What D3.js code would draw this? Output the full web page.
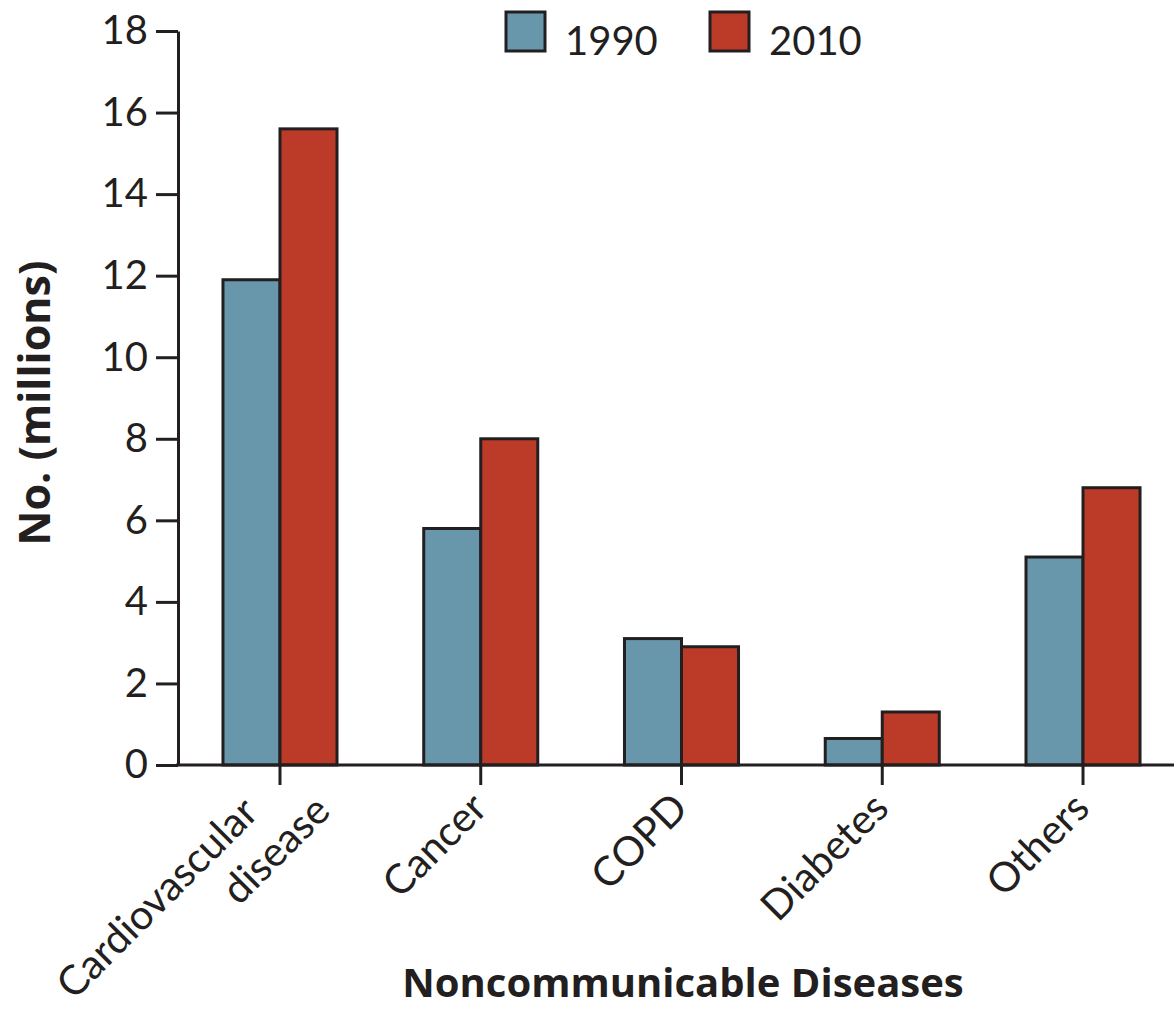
<!DOCTYPE html>
<html>
<head>
<meta charset="utf-8">
<script src="https://cdn.jsdelivr.net/npm/d3@7"></script>
<style>
  html, body { margin: 0; padding: 0; background: #fff; }
  svg { display: block; }
  text { font-family: Lato, "Open Sans", sans-serif; fill: #231f20; }
  .title { font-family: "Open Sans", Lato, sans-serif; font-weight: bold; }
</style>
</head>
<body>
<svg id="chart" width="1174" height="1010"></svg>
<script>
const categories = ["Cardiovascular\ndisease", "Cancer", "COPD", "Diabetes", "Others"];
const years = ["1990", "2010"];
const values1990 = [11.9, 5.8, 3.1, 0.65, 5.1];
const values2010 = [15.6, 8.0, 2.9, 1.3, 6.8];
const yTicks = [0, 2, 4, 6, 8, 10, 12, 14, 16, 18];
const yTitle = "No. (millions)";
const xTitle = "Noncommunicable Diseases";

const colors = { "1990": "#6897ab", "2010": "#bc3b28" };
const ink = "#231f20";

const svg = d3.select("#chart");

const y = d3.scaleLinear().domain([0, 18]).range([765, 31]);
const x0 = d3.scaleBand().domain(categories).range([178, 1185])
  .paddingInner(0.432).paddingOuter(0.224);
const x1 = d3.scaleBand().domain(years).range([0, x0.bandwidth()]);

const rows = categories.map((c, i) => ({ cat: c, vals: [
  { year: "1990", v: values1990[i] },
  { year: "2010", v: values2010[i] }
]}));

// bars
const g = svg.append("g");
g.selectAll("g.cat").data(rows).join("g")
  .attr("class", "cat")
  .attr("transform", d => `translate(${x0(d.cat)},0)`)
  .selectAll("rect").data(d => d.vals).join("rect")
  .attr("x", d => x1(d.year))
  .attr("y", d => y(d.v))
  .attr("width", x1.bandwidth())
  .attr("height", d => y(0) - y(d.v))
  .attr("fill", d => colors[d.year])
  .attr("stroke", ink)
  .attr("stroke-width", 3);

// y axis
const yAxis = svg.append("g")
  .attr("transform", "translate(178,0)")
  .call(d3.axisLeft(y).tickValues(yTicks).tickSize(22).tickSizeOuter(0).tickPadding(8));
yAxis.selectAll("path, line").attr("stroke", ink).attr("stroke-width", 3);
yAxis.selectAll("text").style("font-size", "40px").attr("fill", ink);

// x axis
const xAxis = svg.append("g")
  .attr("transform", "translate(0,765)")
  .call(d3.axisBottom(x0).tickSize(20).tickSizeOuter(0).tickFormat(""));
xAxis.select(".domain").attr("d", "M176,0H1174");
xAxis.selectAll("path, line").attr("stroke", ink).attr("stroke-width", 3);

// category labels
const lbl = svg.append("g").selectAll("text").data(categories).join("text")
  .attr("transform", d => `translate(${x0(d) + x0.bandwidth() / 2},785) rotate(-45)`)
  .attr("text-anchor", "end")
  .style("font-size", "41px");
lbl.each(function(d) {
  const lines = d.split("\n");
  const t = d3.select(this);
  if (lines.length === 1) {
    t.append("tspan").attr("x", -12).attr("y", 24).text(lines[0]);
  } else {
    const offs = [[-35, 7], [17, 57]];
    lines.forEach((ln, i) => t.append("tspan").attr("x", offs[i][0]).attr("y", offs[i][1]).text(ln));
  }
});

// titles
svg.append("text").attr("class", "title")
  .attr("transform", "translate(50,403) rotate(-90)")
  .attr("text-anchor", "middle")
  .style("font-size", "43px")
  .text(yTitle);
svg.append("text").attr("class", "title")
  .attr("x", 683).attr("y", 997)
  .attr("text-anchor", "middle")
  .style("font-size", "40px")
  .text(xTitle);

// legend
const legendX = [506, 710];
const leg = svg.append("g").selectAll("g").data(years).join("g")
  .attr("transform", (d, i) => `translate(${legendX[i]},12)`);
leg.append("rect").attr("width", 39).attr("height", 39)
  .attr("fill", d => colors[d]).attr("stroke", ink).attr("stroke-width", 3);
leg.append("text").attr("x", 59).attr("y", 43)
  .style("font-size", "40px").text(d => d);
</script>
</body>
</html>
